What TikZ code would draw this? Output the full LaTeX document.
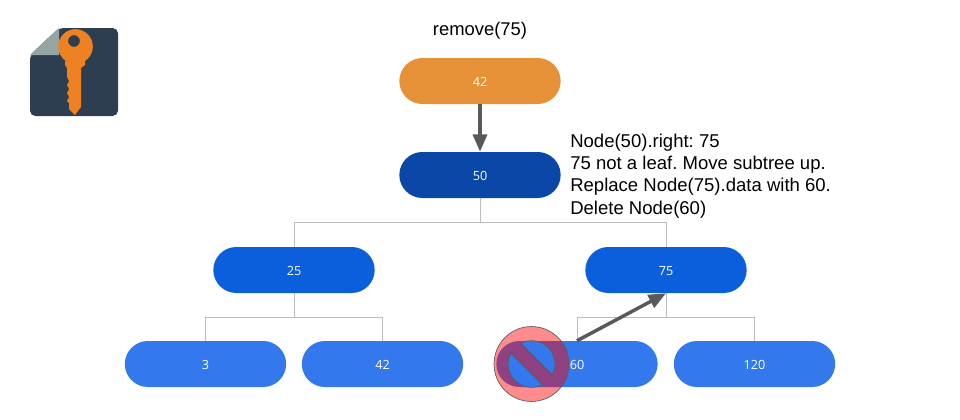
\documentclass[tikz,border=0pt]{standalone}
\usepackage{fontspec}
\setmainfont{Liberation Sans}
\newfontfamily\labelfont{Open Sans}
\usetikzlibrary{arrows.meta}
\definecolor{rootcol}{HTML}{E69138}
\definecolor{topcol}{HTML}{0B47A6}
\definecolor{midcol}{HTML}{0B5EDC}
\definecolor{leafcol}{HTML}{3478EE}
\definecolor{linecol}{HTML}{BDBDBD}
\definecolor{arrowcol}{HTML}{595959}
\definecolor{iconcol}{HTML}{2C3E50}
\definecolor{foldcol}{HTML}{95A5A5}
\definecolor{keycol}{HTML}{EE8122}
\tikzset{
  treenode/.style={minimum width=121pt,minimum height=34.5pt,rounded corners=17.25pt,text=white,font=\labelfont\fontsize{9.5}{11}\selectfont,inner sep=0pt,text height=8.2pt,text depth=0pt},
  branch/.style={draw=linecol,line width=0.6pt},
  moveline/.style={draw=arrowcol,line width=2.6pt,-{Triangle[length=13pt,width=10.5pt]},shorten >=0pt},
  notetext/.style={font=\frenchspacing\fontsize{13.9}{16.6}\selectfont,align=left,inner sep=0pt}
}
\begin{document}
\begin{tikzpicture}[x=0.75pt,y=0.75pt]
\useasboundingbox (0,0) rectangle (960,419);
% key icon
\fill[iconcol,rounded corners=4pt] (30,303) -- (30,364) -- (59,391) -- (118,391) -- (118,303) -- cycle;
\fill[foldcol] (30,364) -- (59,391) -- (59,364) -- cycle;
\begin{scope}
\clip (30,303) rectangle (118,391);
\fill[keycol,even odd rule] (75.5,372.5) circle (13pt) (74,378) circle (4.4pt);
\end{scope}
\fill[keycol] (65,358) -- (85,358) -- (85,354) -- (81,351) -- (81,312) -- (75,304) -- (69,310) -- (69,316) -- (67,318) -- (69,322) -- (67,326) -- (69,330) -- (67,334) -- (69,338) -- (67,342) -- (67,351) -- (65,354) -- cycle;

\node[font=\fontsize{13.8}{16}\selectfont] (title) at (480,388) {remove(75)};
\node[treenode,fill=rootcol] (root) at (480,338) {42};
\node[treenode,fill=topcol] (n50) at (480,244) {50};
\node[treenode,fill=midcol] (n25) at (294,149) {25};
\node[treenode,fill=midcol] (n75) at (666,149) {75};
\node[treenode,fill=leafcol] (n3) at (205.5,55) {3};
\node[treenode,fill=leafcol] (n42) at (382.5,55) {42};
\node[treenode,fill=leafcol] (n60) at (577,55) {60};
\node[treenode,fill=leafcol] (n120) at (754.5,55) {120};
\node[notetext,anchor=north west] (note) at (570,285) {Node(50).right: 75\\75 not a leaf. Move subtree up.\\Replace Node(75).data with 60.\\Delete Node(60)};

\draw[branch] (n50.south) -- ++(0,-24) -| (n25.north);
\draw[branch] (n50.south) -- ++(0,-24) -| (n75.north);
\draw[branch] (n25.south) -- ++(0,-24) -| (n3.north);
\draw[branch] (n25.south) -- ++(0,-24) -| (n42.north);
\draw[branch] (n75.south) -- ++(0,-24) -| (n60.north);
\draw[branch] (n75.south) -- ++(0,-24) -| (n120.north);

\draw[moveline] (root.south) -- (n50.north);
\draw[moveline] (n60.north) -- (n75.south);

% no entry sign
\coordinate (stop) at (531.5,55);
\filldraw[draw=black!65,line width=0.5pt,fill=red,fill opacity=0.45,even odd rule]
  (stop) circle (28.1pt)
  ([shift={(-27.7:17.6pt)}]stop) arc (-27.7:117.7:17.6pt) -- cycle
  ([shift={(152.3:17.6pt)}]stop) arc (152.3:297.7:17.6pt) -- cycle;
\end{tikzpicture}
\end{document}
